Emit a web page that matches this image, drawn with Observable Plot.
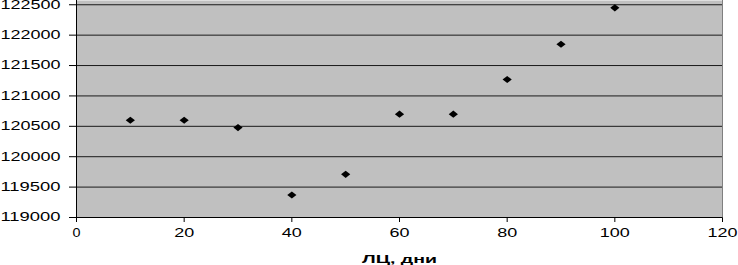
<!DOCTYPE html>
<html>
<head>
<meta charset="utf-8">
<script src="https://cdn.jsdelivr.net/npm/d3@7"></script>
<script src="https://cdn.jsdelivr.net/npm/@observablehq/plot@0.6"></script>
<style>
  html, body { margin: 0; padding: 0; background: #fff; }
</style>
</head>
<body>
<div id="chart"></div>
<script>
// Data
const days = [10, 20, 30, 40, 50, 60, 70, 80, 90, 100];
const values = [120600, 120600, 120480, 119370, 119710, 120700, 120700, 121270, 121850, 122450];
const xTicks = [0, 20, 40, 60, 80, 100, 120];
const yTicks = [119000, 119500, 120000, 120500, 121000, 121500, 122000, 122500];
const yGrid = [119500, 120000, 120500, 121000, 121500, 122000, 122500];
const xTitle = "ЛЦ, дни";

const data = days.map((d, i) => ({ x: d, y: values[i] }));

const diamond = {
  draw(context) {
    context.moveTo(-4.6, 0);
    context.lineTo(0, -3.6);
    context.lineTo(4.6, 0);
    context.lineTo(0, 3.6);
    context.closePath();
  }
};

const svg = Plot.plot({
  width: 738,
  height: 265,
  marginLeft: 76,
  marginRight: 16,
  marginTop: 0,
  marginBottom: 48,
  style: { fontFamily: "'Liberation Sans', Arial, sans-serif", fontSize: "12px", color: "#000", background: "#fff" },
  x: { domain: [0, 120], ticks: xTicks, tickSize: 5, tickPadding: 6, label: null, tickFormat: d => String(d) },
  y: { domain: [119000, 122570], ticks: yTicks, tickSize: 7, tickPadding: 9, label: null, tickFormat: d => String(d) },
  marks: [
    Plot.frame({ fill: "#c0c0c0", stroke: "none" }),
    Plot.ruleY(yGrid, { stroke: "#1a1a1a", strokeWidth: 1 }),
    Plot.ruleX([120], { stroke: "#808080", strokeWidth: 1 }),
    Plot.ruleX([0], { stroke: "#000", strokeWidth: 1 }),
    Plot.ruleY([119000], { stroke: "#000", strokeWidth: 1 }),
    Plot.dot(data, { x: "x", y: "y", symbol: diamond, r: 4, fill: "#000", stroke: "none" }),
    Plot.text([xTitle], { frameAnchor: "bottom", lineAnchor: "bottom", dy: 45, text: d => d, fontWeight: "bold", fontSize: 10, fill: "#000" })
  ]
});

// Horizontal stretch of the labels, as in the reference picture
svg.querySelectorAll("text").forEach(t => {
  const s = t.textContent;
  if (s === xTitle) {
    t.setAttribute("textLength", 75);
    t.setAttribute("lengthAdjust", "spacingAndGlyphs");
  } else if (/^\d+$/.test(s)) {
    t.setAttribute("textLength", s.length === 1 ? 8 : 10 * s.length);
    t.setAttribute("lengthAdjust", "spacingAndGlyphs");
  }
});

document.getElementById("chart").appendChild(svg);
</script>
</body>
</html>
